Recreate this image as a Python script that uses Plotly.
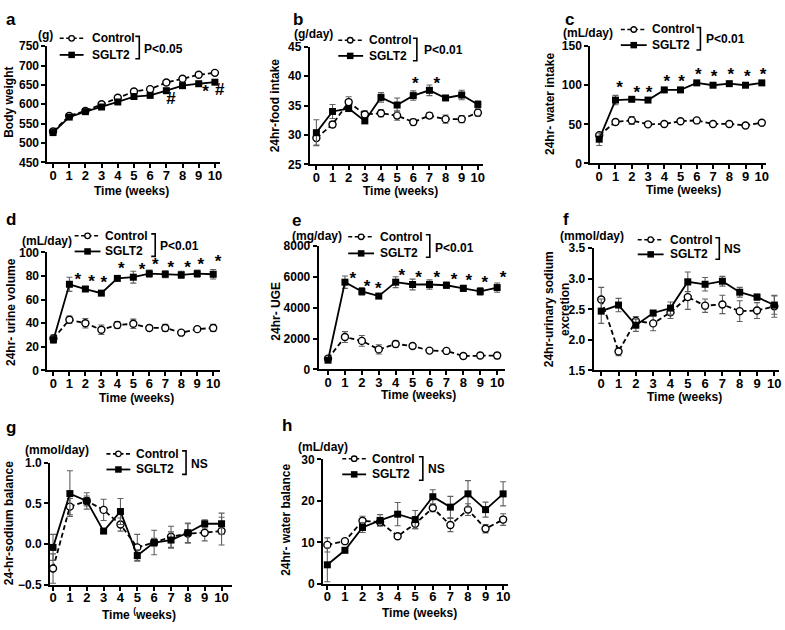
"""Eight-panel time course of SGLT2 vs control: body weight, intake, urine, balances."""

import plotly.graph_objects as go

W, H = 785, 630
FONT = "Liberation Sans, Arial, sans-serif"
ERR_COLOR = "#606060"

WEEKS = list(range(11))

# a: body weight (g)
BW_CTRL = [530, 570, 583, 600, 617, 633, 639, 656, 666, 676, 681]
BW_CTRL_SE = [5, 4, 3, 3, 3, 3, 4, 4, 4, 5, 5]
BW_SGLT2 = [527, 567, 581, 593, 606, 620, 623, 635, 648, 653, 657]
BW_SGLT2_SE = [6, 4, 4, 4, 4, 4, 4, 4, 4, 4, 4]
BW_MARK_X = [7.28, 9.43, 10.3]
BW_MARK_Y = [612, 631, 634]
BW_MARK_TEXT = ["#", "*", "#"]

# b: 24hr food intake (g/day)
FOOD_CTRL = [29.5, 31.8, 35.6, 33.5, 33.7, 33.3, 32.2, 33.3, 32.7, 32.7, 33.8]
FOOD_CTRL_SE = [1.2, 0.5, 0.9, 0.6, 0.6, 0.8, 0.5, 0.5, 0.7, 0.6, 0.6]
FOOD_SGLT2 = [30.4, 34.0, 34.5, 32.4, 36.4, 35.1, 36.7, 37.6, 36.3, 36.8, 35.2]
FOOD_SGLT2_SE = [2.2, 1.2, 0.5, 0.4, 0.8, 1.2, 0.8, 0.9, 0.3, 0.8, 0.6]
FOOD_MARK_X = [6.12, 7.46]
FOOD_MARK_Y = [38.5, 38.5]

# c: 24hr water intake (mL/day)
WATER_CTRL = [36, 53, 55, 50, 50.5, 54, 55, 50.5, 50.5, 48.5, 52]
WATER_CTRL_SE = [3, 3, 5, 2, 2, 2, 2, 2, 2, 2, 2]
WATER_SGLT2 = [31, 81, 82, 81, 94, 94, 103, 100, 102, 100, 103]
WATER_SGLT2_SE = [8, 6, 2, 2, 2, 2, 2, 2, 2, 2, 2]
WATER_MARK_X = [1.25, 2.31, 3.06, 4.15, 5.07, 6.09, 7.07, 8.09, 9.11, 10.07]
WATER_MARK_Y = [95.8, 89.6, 89.6, 103, 103, 112.5, 110, 112.5, 110, 112.5]

# d: 24hr urine volume (mL/day)
URINE_CTRL = [27, 43, 40, 34.5, 38.5, 39.5, 36, 36, 32, 35, 36]
URINE_CTRL_SE = [3, 3, 4, 4, 3, 4, 2, 3, 1.5, 2, 3]
URINE_SGLT2 = [26, 73, 69, 65.5, 78, 79, 82, 81.5, 81, 82, 81.5]
URINE_SGLT2_SE = [3, 6, 2, 2, 2, 5, 3, 3, 3, 3, 4]
URINE_MARK_X = [1.53, 2.38, 3.15, 4.25, 5.54, 6.37, 7.34, 8.40, 9.23, 10.31]
URINE_MARK_Y = [76, 74.6, 73.8, 85.6, 84.8, 88.4, 86.2, 86.2, 88.4, 91.2]

# e: 24hr urinary glucose excretion (mg/day)
UGE_CTRL = [700, 2100, 1850, 1300, 1650, 1520, 1220, 1200, 870, 900, 900]
UGE_CTRL_SE = [150, 350, 350, 300, 200, 100, 80, 80, 150, 100, 200]
UGE_SGLT2 = [600, 5650, 5050, 4750, 5650, 5500, 5500, 5450, 5250, 5050, 5300]
UGE_SGLT2_SE = [150, 400, 250, 150, 350, 350, 300, 200, 200, 250, 300]
UGE_MARK_X = [1.47, 2.31, 2.98, 4.37, 5.35, 6.43, 7.45, 8.33, 9.27, 10.35]
UGE_MARK_Y = [5805, 5278, 5172, 5995, 5890, 5848, 5742, 5679, 5531, 5848]

# f: 24hr urinary sodium excretion (mmol/day)
NAEX_CTRL = [2.66, 1.81, 2.31, 2.27, 2.45, 2.70, 2.56, 2.58, 2.47, 2.48, 2.55]
NAEX_CTRL_SE = [0.2, 0.07, 0.07, 0.12, 0.1, 0.2, 0.11, 0.15, 0.17, 0.13, 0.18]
NAEX_SGLT2 = [2.47, 2.57, 2.24, 2.44, 2.52, 2.95, 2.91, 2.96, 2.78, 2.70, 2.57]
NAEX_SGLT2_SE = [0.2, 0.11, 0.1, 0.04, 0.1, 0.16, 0.11, 0.08, 0.08, 0.05, 0.15]

# g: 24hr sodium balance (mmol/day)
NABAL_CTRL = [-0.30, 0.46, 0.53, 0.42, 0.24, -0.04, 0.02, 0.09, 0.13, 0.14, 0.16]
NABAL_CTRL_SE = [0.18, 0.1, 0.06, 0.13, 0.08, 0.16, 0.15, 0.13, 0.12, 0.1, 0.17]
NABAL_SGLT2 = [-0.04, 0.62, 0.53, 0.16, 0.40, -0.14, 0.02, 0.05, 0.14, 0.25, 0.25]
NABAL_SGLT2_SE = [0.16, 0.28, 0.1, 0.03, 0.16, 0.07, 0.05, 0.1, 0.12, 0.05, 0.13]

# h: 24hr water balance (mL/day)
H2OBAL_CTRL = [9.4, 10.3, 15.2, 14.9, 11.5, 14.5, 18.3, 14.2, 17.9, 13.3, 15.5]
H2OBAL_CTRL_SE = [1.7, 0.5, 1.1, 0.8, 0.5, 1.2, 0.9, 1.6, 1.4, 1.0, 1.4]
H2OBAL_SGLT2 = [4.6, 8.1, 13.6, 15.3, 16.8, 15.5, 21.0, 18.5, 21.7, 17.9, 21.7]
H2OBAL_SGLT2_SE = [4.1, 0.6, 1.2, 1.4, 2.8, 2.2, 1.7, 2.6, 3.2, 1.8, 2.9]

# Panel geometry is in screen pixels: (left, right, top, bottom) of the axes box,
# plus the pixel columns of week 0 and week 10 so the x range matches.
PANELS = [
    dict(letter="a", box=(46.7, 220, 40, 159), x0=52.3, x10=215,
         yrange=(450, 750), ytick=50, yfmt="d", ytitle="Body weight", ytitle_xy=(8, 97),
         unit="(g)", unit_xy=(45, 29), letter_xy=(10, 13), xtitle_xy=(131, 188),
         xtitle="Time (weeks)",
         ctrl=(BW_CTRL, BW_CTRL_SE), sglt2=(BW_SGLT2, BW_SGLT2_SE),
         marks=(BW_MARK_X, BW_MARK_Y, BW_MARK_TEXT), stat="P<0.05",
         leg=dict(r1=32, r2=49, s0=59, s1=83, mk=71, tx=89, bx=139, bt=30, bb=53, px=142, py=43)),
    dict(letter="b", box=(310.3, 484, 40.7, 161), x0=317, x10=479.3,
         yrange=(25, 45), ytick=5, yfmt="d", ytitle="24hr-food intake", ytitle_xy=(275, 101),
         unit="(g/day)", unit_xy=(314.5, 28), letter_xy=(299, 13), xtitle_xy=(402, 188),
         xtitle="Time (weeks)",
         ctrl=(FOOD_CTRL, FOOD_CTRL_SE), sglt2=(FOOD_SGLT2, FOOD_SGLT2_SE),
         marks=(FOOD_MARK_X, FOOD_MARK_Y, None), stat="P<0.01",
         leg=dict(r1=34, r2=50, s0=339, s1=364, mk=351, tx=368, bx=418, bt=32, bb=55, px=423, py=44)),
    dict(letter="c", box=(592.3, 769, 40, 160), x0=601.3, x10=764.7,
         yrange=(0, 150), ytick=50, yfmt="d", ytitle="24hr- water intake", ytitle_xy=(552, 99),
         unit="(mL/day)", unit_xy=(590, 27), letter_xy=(571, 13), xtitle_xy=(686, 187),
         xtitle="Time (weeks)",
         ctrl=(WATER_CTRL, WATER_CTRL_SE), sglt2=(WATER_SGLT2, WATER_SGLT2_SE),
         marks=(WATER_MARK_X, WATER_MARK_Y, None), stat="P<0.01",
         leg=dict(r1=23, r2=39, s0=623, s1=649, mk=636, tx=652, bx=703, bt=21, bb=44, px=707, py=33)),
    dict(letter="d", box=(46.7, 220, 251, 371.7), x0=52.7, x10=213.3,
         yrange=(0, 100), ytick=20, yfmt="d", ytitle="24hr- urine volume", ytitle_xy=(10, 312),
         unit="(mL/day)", unit_xy=(46, 239), letter_xy=(10, 217), xtitle_xy=(136, 400),
         xtitle="Time (weeks)",
         ctrl=(URINE_CTRL, URINE_CTRL_SE), sglt2=(URINE_SGLT2, URINE_SGLT2_SE),
         marks=(URINE_MARK_X, URINE_MARK_Y, None), stat="P<0.01",
         leg=dict(r1=234, r2=250, s0=74, s1=100, mk=87, tx=103, bx=155, bt=232, bb=255, px=158, py=244)),
    dict(letter="e", box=(319.3, 507, 244.3, 370.7), x0=328.7, x10=498.7,
         yrange=(0, 8000), ytick=2000, yfmt="d", ytitle="24hr- UGE", ytitle_xy=(276, 311),
         unit="(mg/day)", unit_xy=(317.5, 234), letter_xy=(297, 218), xtitle_xy=(419.5, 397),
         xtitle="Time (weeks)",
         ctrl=(UGE_CTRL, UGE_CTRL_SE), sglt2=(UGE_SGLT2, UGE_SGLT2_SE),
         marks=(UGE_MARK_X, UGE_MARK_Y, None), stat="P<0.01",
         leg=dict(r1=235, r2=252, s0=349, s1=375, mk=362, tx=379, bx=431, bt=233, bb=256, px=434, py=246)),
    dict(letter="f", box=(595.7, 782, 246.7, 371.7), x0=603.3, x10=777.3,
         yrange=(1.5, 3.5), ytick=0.5, yfmt=".1f", ytitle="24hr-urinary sodium<br>excretion",
         ytitle_xy=(559, 309),
         unit="(mmol/day)", unit_xy=(594.5, 234), letter_xy=(568, 217), xtitle_xy=(687.5, 399),
         xtitle="Time (weeks)",
         ctrl=(NAEX_CTRL, NAEX_CTRL_SE), sglt2=(NAEX_SGLT2, NAEX_SGLT2_SE),
         marks=None, stat="NS",
         leg=dict(r1=238, r2=253, s0=640, s1=666, mk=653, tx=670, bx=722, bt=236, bb=258, px=725, py=248)),
    dict(letter="g", box=(49.3, 232, 466, 591), x0=52.3, x10=221.7,
         yrange=(-0.5, 1.0), ytick=0.5, yfmt=".1f", ytitle="24-hr-sodium balance", ytitle_xy=(8, 528),
         unit="(mmol/day)", unit_xy=(56.5, 453), letter_xy=(10, 430), xtitle_xy=(139, 621),
         xtitle="Time <sup>(</sup>weeks)",
         ctrl=(NABAL_CTRL, NABAL_CTRL_SE), sglt2=(NABAL_SGLT2, NABAL_SGLT2_SE),
         marks=None, stat="NS",
         leg=dict(r1=457, r2=473, s0=106, s1=130, mk=118, tx=134, bx=186, bt=454, bb=478, px=189, py=467)),
    dict(letter="h", box=(323.7, 510, 462.7, 590), x0=328, x10=504.7,
         yrange=(0, 30), ytick=10, yfmt="d", ytitle="24hr- water balance", ytitle_xy=(287, 525),
         unit="(mL/day)", unit_xy=(324, 450), letter_xy=(287, 428), xtitle_xy=(421, 620),
         xtitle="Time (weeks)",
         ctrl=(H2OBAL_CTRL, H2OBAL_CTRL_SE), sglt2=(H2OBAL_SGLT2, H2OBAL_SGLT2_SE),
         marks=None, stat="NS",
         leg=dict(r1=462, r2=478, s0=343, s1=367, mk=355, tx=371, bx=424, bt=460, bb=484, px=427, py=472)),
]


def fx(px):
    return px / W


def fy(py):
    return 1 - py / H


def text(label, x, y, size=12, xanchor="center", angle=0):
    return dict(
        text=label, x=fx(x), y=fy(y), xref="paper", yref="paper",
        xanchor=xanchor, yanchor="middle", showarrow=False, textangle=angle,
        font=dict(family=FONT, size=size, color="black", weight="bold"),
    )


def legend_shapes(leg):
    shapes = [
        dict(type="line", xref="paper", yref="paper",
             x0=fx(leg["s0"]), x1=fx(leg["s1"]), y0=fy(leg["r1"]), y1=fy(leg["r1"]),
             line=dict(color="black", width=1.6, dash="4px,2.5px")),
        dict(type="line", xref="paper", yref="paper",
             x0=fx(leg["s0"]), x1=fx(leg["s1"]), y0=fy(leg["r2"]), y1=fy(leg["r2"]),
             line=dict(color="black", width=1.8)),
        dict(type="circle", xref="paper", yref="paper", fillcolor="white",
             x0=fx(leg["mk"] - 2.8), x1=fx(leg["mk"] + 2.8),
             y0=fy(leg["r1"] - 2.8), y1=fy(leg["r1"] + 2.8),
             line=dict(color="black", width=1.3)),
        dict(type="rect", xref="paper", yref="paper", fillcolor="black",
             x0=fx(leg["mk"] - 3.3), x1=fx(leg["mk"] + 3.3),
             y0=fy(leg["r2"] - 3.3), y1=fy(leg["r2"] + 3.3),
             line=dict(color="black", width=0)),
    ]
    bx, bt, bb = leg["bx"], leg["bt"], leg["bb"]
    path = (f"M {fx(bx - 4)} {fy(bt)} L {fx(bx)} {fy(bt)} "
            f"L {fx(bx)} {fy(bb)} L {fx(bx - 4)} {fy(bb)}")
    shapes.append(dict(type="path", xref="paper", yref="paper", path=path,
                       line=dict(color="black", width=1.6)))
    return shapes


fig = go.Figure()
shapes = []
annotations = []
axes = {}

for i, p in enumerate(PANELS, start=1):
    xa = "x" if i == 1 else f"x{i}"
    ya = "y" if i == 1 else f"y{i}"
    left, right, top, bottom = p["box"]
    unit = (p["x10"] - p["x0"]) / 10
    xrange = [(left - p["x0"]) / unit, (right - p["x0"]) / unit]

    ctrl, ctrl_se = p["ctrl"]
    sglt2, sglt2_se = p["sglt2"]
    fig.add_trace(go.Scatter(
        x=WEEKS, y=ctrl, xaxis=xa, yaxis=ya, mode="lines+markers", name="Control",
        line=dict(color="black", width=1.8, dash="5px,3px"),
        marker=dict(symbol="circle", size=7, color="white", line=dict(color="black", width=1.4)),
        error_y=dict(type="data", array=ctrl_se, color=ERR_COLOR, thickness=1.1, width=3),
        cliponaxis=False, showlegend=False,
    ))
    fig.add_trace(go.Scatter(
        x=WEEKS, y=sglt2, xaxis=xa, yaxis=ya, mode="lines+markers", name="SGLT2",
        line=dict(color="black", width=1.8),
        marker=dict(symbol="square", size=7, color="black"),
        error_y=dict(type="data", array=sglt2_se, color=ERR_COLOR, thickness=1.1, width=3),
        cliponaxis=False, showlegend=False,
    ))
    if p["marks"]:
        mx, my, mt = p["marks"]
        fig.add_trace(go.Scatter(
            x=mx, y=my, xaxis=xa, yaxis=ya, mode="text",
            text=mt if mt else ["*"] * len(mx), textposition="middle center",
            textfont=dict(family=FONT, size=17, color="black", weight="bold"),
            cliponaxis=False, showlegend=False, hoverinfo="skip",
        ))

    ylo, yhi = p["yrange"]
    nt = int(round((yhi - ylo) / p["ytick"]))
    yticks = [ylo + k * p["ytick"] for k in range(nt + 1)]
    common = dict(showline=True, linewidth=2, linecolor="black", showgrid=False,
                  zeroline=False, ticks="outside", tickcolor="black", tickwidth=1.6)
    axes["xaxis" if i == 1 else f"xaxis{i}"] = dict(
        common, domain=[fx(left), fx(right)], anchor=ya, range=xrange,
        tickvals=WEEKS, ticklen=4, ticklabelstandoff=-4,
        tickfont=dict(family=FONT, size=13, color="black", weight="bold"),
    )
    axes["yaxis" if i == 1 else f"yaxis{i}"] = dict(
        common, domain=[fy(bottom), fy(top)], anchor=xa, range=[ylo, yhi],
        tickvals=yticks, tickformat=p["yfmt"], ticklen=4,
        tickfont=dict(family=FONT, size=12, color="black", weight="bold"),
    )

    lx, ly = p["letter_xy"]
    annotations.append(text(p["letter"], lx, ly, size=17))
    ux, uy = p["unit_xy"]
    annotations.append(text(p["unit"], ux, uy, size=12))
    tx, ty = p["ytitle_xy"]
    annotations.append(text(p["ytitle"], tx, ty, size=12, angle=-90))
    tx, ty = p["xtitle_xy"]
    annotations.append(text(p["xtitle"], tx, ty, size=12))

    leg = p["leg"]
    annotations.append(text("Control", leg["tx"], leg["r1"], xanchor="left"))
    annotations.append(text("SGLT2", leg["tx"], leg["r2"], xanchor="left"))
    annotations.append(text(p["stat"], leg["px"], leg["py"], xanchor="left"))
    shapes.extend(legend_shapes(leg))

fig.update_layout(
    width=W, height=H,
    margin=dict(l=0, r=0, t=0, b=0),
    paper_bgcolor="white", plot_bgcolor="white",
    font=dict(family=FONT, size=12, color="black", weight="bold"),
    showlegend=False,
    shapes=shapes,
    annotations=annotations,
    **axes,
)

# the page's default body margin would push the 785x630 figure off the window
fig.write_html(
    "out.html",
    config={"displayModeBar": False},
    post_script="document.body.style.margin = '0';",
)
